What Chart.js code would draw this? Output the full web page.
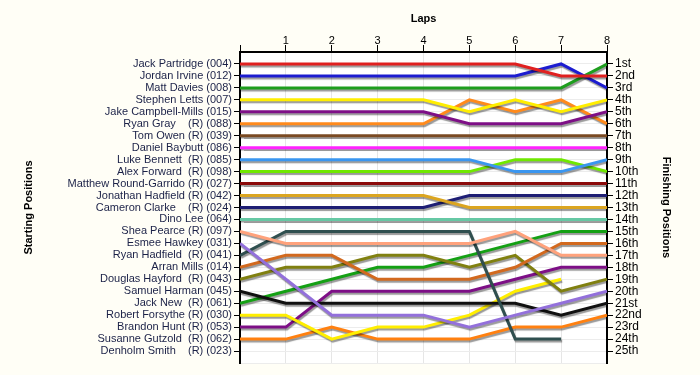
<!DOCTYPE html>
<html><head><meta charset="utf-8">
<script src="https://cdn.jsdelivr.net/npm/chart.js@4"></script>
<style>html,body{margin:0;padding:0;background:#fffef6;}#wrap{width:700px;height:375px;}</style>
</head><body><div id="wrap"><canvas id="c" width="700" height="375"></canvas></div>
<script>
const laps = [0, 1, 2, 3, 4, 5, 6, 7, 8];
const drivers = [
  'Jack Partridge (004)', 'Jordan Irvine (012)', 'Matt Davies (008)', 'Stephen Letts (007)',
  'Jake Campbell-Mills (015)', 'Ryan Gray    (R) (088)', 'Tom Owen (R) (039)', 'Daniel Baybutt (086)',
  'Luke Bennett  (R) (085)', 'Alex Forward  (R) (098)', 'Matthew Round-Garrido (R) (027)',
  'Jonathan Hadfield (R) (042)', 'Cameron Clarke    (R) (024)', 'Dino Lee (064)', 'Shea Pearce (R) (097)',
  'Esmee Hawkey (031)', 'Ryan Hadfield  (R) (041)', 'Arran Mills (014)', 'Douglas Hayford  (R) (043)',
  'Samuel Harman (045)', 'Jack New  (R) (061)', 'Robert Forsythe (R) (030)', 'Brandon Hunt (R) (053)',
  'Susanne Gutzold  (R) (062)', 'Denholm Smith    (R) (023)'
];
const finishLabels = ['1st','2nd','3rd','4th','5th','6th','7th','8th','9th','10th','11th','12th','13th',
  '14th','15th','16th','17th','18th','19th','20th','21st','22nd','23rd','24th','25th'];
// position of each driver at the end of each lap (lap 0 = grid)
const lapPositions = [
  [1, 1, 1, 1, 1, 1, 1, 2, 2],
  [2, 2, 2, 2, 2, 2, 2, 1, 3],
  [3, 3, 3, 3, 3, 3, 3, 3, 1],
  [4, 4, 4, 4, 4, 5, 4, 5, 4],
  [5, 5, 5, 5, 5, 6, 6, 6, 5],
  [6, 6, 6, 6, 6, 4, 5, 4, 6],
  [7, 7, 7, 7, 7, 7, 7, 7, 7],
  [8, 8, 8, 8, 8, 8, 8, 8, 8],
  [9, 9, 9, 9, 9, 9, 10, 10, 9],
  [10, 10, 10, 10, 10, 10, 9, 9, 10],
  [11, 11, 11, 11, 11, 11, 11, 11, 11],
  [12, 12, 12, 12, 12, 13, 13, 13, 13],
  [13, 13, 13, 13, 13, 12, 12, 12, 12],
  [14, 14, 14, 14, 14, 14, 14, 14, 14],
  [15, 16, 16, 16, 16, 16, 15, 17, 17],
  [16, 19, 22, 22, 22, 23, 22, 21, 20],
  [17, 15, 15, 15, 15, 15, 24, 24, null],
  [18, 17, 17, 19, 19, 19, 18, 16, 16],
  [19, 18, 18, 17, 17, 18, 17, 20, 19],
  [20, 21, 21, 21, 21, 21, 21, 22, 21],
  [21, 20, 19, 18, 18, 17, 16, 15, 15],
  [22, 22, 24, 23, 23, 22, 20, 19, null],
  [23, 23, 20, 20, 20, 20, 19, 18, 18],
  [24, 24, 23, 24, 24, 24, 23, 23, 22],
  [null, null, null, null, null, null, null, null, null]
];
const colours = ['#e02020', '#1c1cd0', '#1e9e1e', '#ffee00', '#7d0f86', '#ff8a1c', '#7a4a22', '#ff22ff',
  '#3a96f0', '#6fe800', '#8b0a0a', '#dba520', '#1e1e74', '#66c8a4', '#ffa27c', '#9370db', '#2f4f4f',
  '#d2691e', '#808010', '#101010', '#14a014', '#ffee00', '#7d0f86', '#ff8010', '#cccccc'];

const bg = {
  id: 'bg',
  beforeDraw(chart) {
    const c = chart.ctx, a = chart.chartArea;
    c.save();
    c.fillStyle = '#fffef6'; c.fillRect(0, 0, chart.width, chart.height);
    c.fillStyle = '#ffffff'; c.fillRect(a.left, a.top, a.right - a.left, a.bottom - a.top);
    c.restore();
  }
};
const shadow = {
  id: 'shadow',
  beforeDatasetDraw(chart) {
    const c = chart.ctx; c.save();
    c.shadowColor = 'rgba(0,0,0,0.4)'; c.shadowOffsetX = 1; c.shadowOffsetY = 2; c.shadowBlur = 1;
  },
  afterDatasetDraw(chart) { chart.ctx.restore(); }
};

Chart.defaults.font.family = "'Liberation Sans', Arial, sans-serif";
Chart.defaults.font.size = 11;

const hideEnds = ctx => (ctx.tick && (ctx.tick.value === 0 || ctx.tick.value === 26)) ? 'rgba(0,0,0,0)' : '#000';

new Chart(document.getElementById('c'), {
  type: 'line',
  data: {
    datasets: drivers.map((d, i) => ({
      label: d,
      data: laps.map((l, j) => ({ x: l, y: lapPositions[i][j] })),
      borderColor: colours[i],
      borderWidth: 3,
      pointRadius: 0,
      tension: 0,
      spanGaps: false,
      yAxisID: 'y'
    }))
  },
  options: {
    responsive: false,
    animation: false,
    devicePixelRatio: 1,
    layout: { padding: { left: 18, right: 23, top: 8, bottom: 12 } },
    plugins: { legend: { display: false }, tooltip: { enabled: false } },
    scales: {
      x: {
        type: 'linear', position: 'top', min: 0, max: 8,
        ticks: { stepSize: 1, color: '#000', padding: -3, callback: v => v === 0 ? '' : v },
        grid: { color: '#e6e6e6', tickColor: '#000', tickLength: 7 },
        border: { color: '#000', width: 2 },
        title: { display: true, text: 'Laps', color: '#000', font: { weight: 'bold', size: 11 }, padding: { top: 4, bottom: 4 } },
        afterFit: s => { s.height = 44; }
      },
      y: {
        type: 'linear', position: 'left', min: 0, max: 26, reverse: true,
        ticks: { stepSize: 1, autoSkip: false, color: '#1b2147', padding: 2, callback: v => drivers[v - 1] || '' },
        grid: { color: '#ececec', tickColor: hideEnds, tickLength: 6 },
        border: { color: '#000', width: 2 },
        title: { display: true, text: 'Starting Positions', color: '#000', font: { weight: 'bold', size: 11 }, padding: { top: 4, bottom: 4 } },
        afterFit: s => { s.width = 222; }
      },
      y2: {
        type: 'linear', position: 'right', min: 0, max: 26, reverse: true,
        ticks: { stepSize: 1, autoSkip: false, color: '#000', padding: 2, font: { size: 12 }, callback: v => finishLabels[v - 1] || '' },
        grid: { drawOnChartArea: false, tickColor: hideEnds, tickLength: 6 },
        border: { color: '#000', width: 2 },
        title: { display: true, text: 'Finishing Positions', color: '#000', font: { weight: 'bold', size: 11 }, padding: { top: 4, bottom: 4 } },
        afterFit: s => { s.width = 70; }
      }
    }
  },
  plugins: [bg, shadow]
});
</script></body></html>
